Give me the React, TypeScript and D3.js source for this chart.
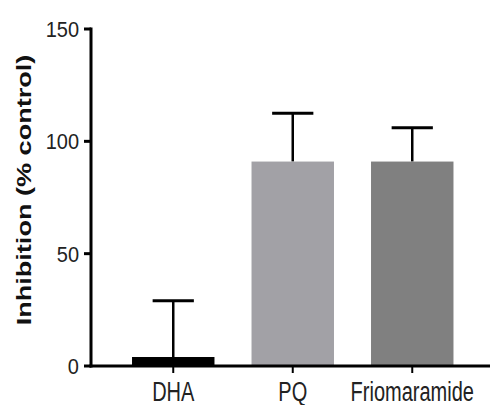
import React from "react";
import * as d3 from "d3";

const categories = ["DHA", "PQ", "Friomaramide"];
const means = [4, 91, 91];
const errors = [25, 21.5, 15];
const colors = ["#000000", "#a2a1a6", "#808080"];
const yTicks = [0, 50, 100, 150];

export default function App() {
  const W = 493, H = 405;
  const x0 = 91, yBottom = 366, yTop = 29;
  const y = d3.scaleLinear().domain([0, 150]).range([yBottom, yTop]);
  const x = d3.scaleBand<string>().domain(categories).range([113.5, 472]).paddingInner(0.31).paddingOuter(0.155);
  const bw = x.bandwidth();
  const font = "'Liberation Sans', Arial, sans-serif";
  return (
    <svg width={W} height={H} style={{ position: "absolute", left: 0, top: 0, background: "#fff" }}>
      {categories.map((c, i) => {
        const cx = (x(c) as number) + bw / 2;
        return (
          <g key={c}>
            <line x1={cx} x2={cx} y1={y(means[i])} y2={y(means[i] + errors[i])} stroke="#000" strokeWidth={2.5} />
            <line x1={cx - bw / 4} x2={cx + bw / 4} y1={y(means[i] + errors[i])} y2={y(means[i] + errors[i])} stroke="#000" strokeWidth={3} />
            <rect x={x(c)} y={y(means[i])} width={bw} height={y(0) - y(means[i])} fill={colors[i]} />
            <line x1={cx} x2={cx} y1={yBottom} y2={yBottom + 7} stroke="#000" strokeWidth={2} />
            <text
              transform={`translate(${cx},${yBottom + 35}) scale(1,1.4)`}
              textAnchor="middle"
              fontFamily={font}
              fontSize={20}
              fill="#222"
            >
              {c}
            </text>
          </g>
        );
      })}
      <line x1={x0} x2={x0} y1={yTop - 1.5} y2={yBottom + 1.5} stroke="#000" strokeWidth={3} />
      <line x1={x0 - 1.5} x2={490} y1={yBottom} y2={yBottom} stroke="#000" strokeWidth={3} />
      {yTicks.map((t) => (
        <g key={t}>
          <line x1={x0 - 7} x2={x0} y1={y(t)} y2={y(t)} stroke="#000" strokeWidth={3} />
          <text
            transform={`translate(${x0 - 12},${y(t) + 8}) scale(1,1.12)`}
            textAnchor="end"
            fontFamily={font}
            fontSize={20}
            fill="#222"
          >
            {t}
          </text>
        </g>
      ))}
      <text
        transform={`translate(31,190) rotate(-90) scale(1.29,1)`}
        textAnchor="middle"
        fontFamily={font}
        fontWeight="bold"
        fontSize={21}
        fill="#111"
      >
        Inhibition (% control)
      </text>
    </svg>
  );
}
